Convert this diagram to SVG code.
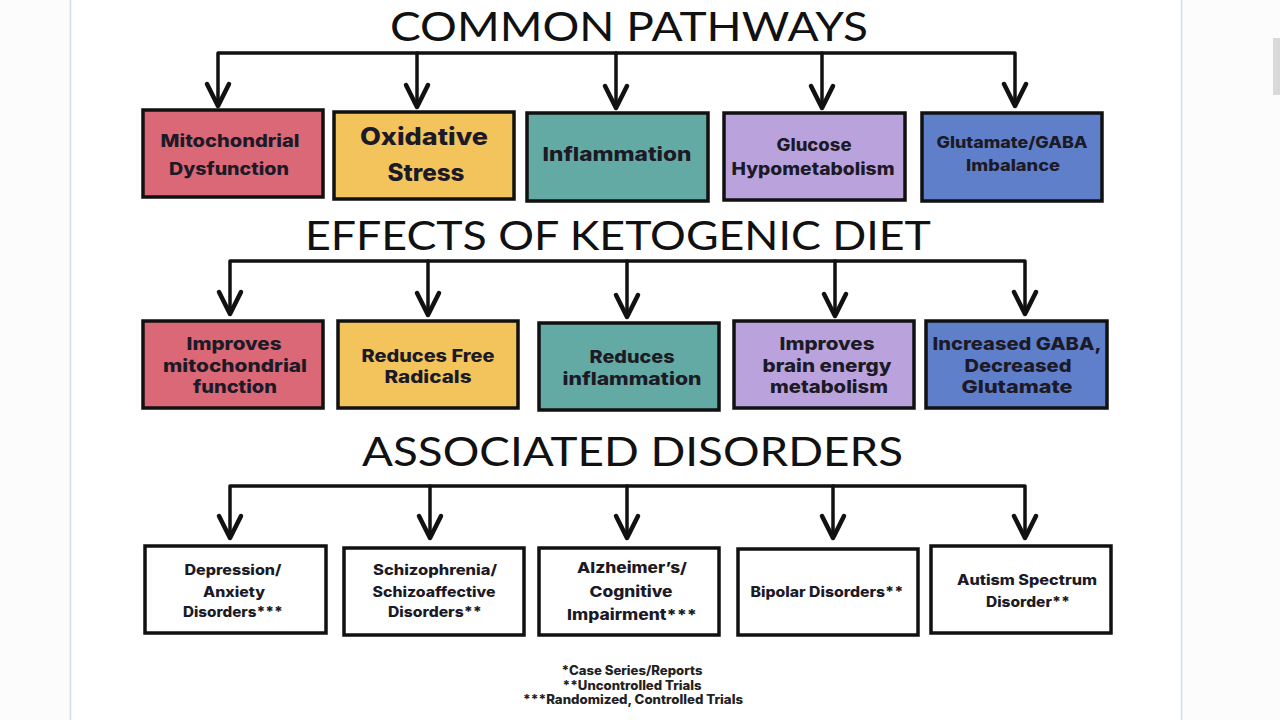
<svg xmlns="http://www.w3.org/2000/svg" width="1280" height="720" viewBox="0 0 1280 720">
<defs>
<style>
.title{font-family:Lato,"Liberation Sans",sans-serif;font-weight:400;font-size:41px;fill:#111;}
.lbl{font-family:Inter,"Liberation Sans",sans-serif;font-weight:800;fill:#1c1a26;text-anchor:middle;}
.box{stroke:#111;stroke-width:3.5;}
.wire{fill:none;stroke:#111;stroke-width:3.5;stroke-linejoin:round;stroke-linecap:round;}
.head{fill:none;stroke:#111;stroke-width:4.5;stroke-linejoin:round;stroke-linecap:round;}
.fn{font-family:Inter,"Liberation Sans",sans-serif;font-weight:800;font-size:12.5px;fill:#222;text-anchor:middle;}
</style>
</defs>
<rect x="0" y="0" width="1280" height="720" fill="#fcfcfc"/>
<rect x="71" y="0" width="1110" height="720" fill="#ffffff"/>
<line x1="70.5" y1="0" x2="70.5" y2="720" stroke="#d3dde6" stroke-width="1.5"/>
<line x1="1181.5" y1="0" x2="1181.5" y2="720" stroke="#d3dde6" stroke-width="1.5"/>
<rect x="1273" y="38" width="7" height="57" fill="#d9d9d9"/>

<g id="titles">
<text class="title" x="390" y="41" textLength="478" lengthAdjust="spacingAndGlyphs">COMMON PATHWAYS</text>
<text class="title" x="305" y="250" textLength="626" lengthAdjust="spacingAndGlyphs">EFFECTS OF KETOGENIC DIET</text>
<text class="title" x="362" y="466" textLength="541" lengthAdjust="spacingAndGlyphs">ASSOCIATED DISORDERS</text>
</g>

<g id="connectors">
<path class="wire" d="M218,106 L218,53 L1015,53 L1015,106"/>
<path class="wire" d="M417,53 L417,107"/>
<path class="wire" d="M616,53 L616,108"/>
<path class="wire" d="M822,53 L822,108"/>
<g class="head">
<path d="M207,84 L218,106 L229,84"/>
<path d="M406,85 L417,107 L428,85"/>
<path d="M605,86 L616,108 L627,86"/>
<path d="M811,86 L822,108 L833,86"/>
<path d="M1004,84 L1015,106 L1026,84"/>
</g>
<path class="wire" d="M230,314 L230,261 L1025,261 L1025,314"/>
<path class="wire" d="M428,261 L428,315"/>
<path class="wire" d="M627,261 L627,317"/>
<path class="wire" d="M835,261 L835,316"/>
<g class="head">
<path d="M219,292 L230,314 L241,292"/>
<path d="M417,293 L428,315 L439,293"/>
<path d="M616,295 L627,317 L638,295"/>
<path d="M824,294 L835,316 L846,294"/>
<path d="M1014,292 L1025,314 L1036,292"/>
</g>
<path class="wire" d="M230,538 L230,486 L1025,486 L1025,538"/>
<path class="wire" d="M430,486 L430,538"/>
<path class="wire" d="M627,486 L627,538"/>
<path class="wire" d="M833,486 L833,538"/>
<g class="head">
<path d="M219,516 L230,538 L241,516"/>
<path d="M419,516 L430,538 L441,516"/>
<path d="M616,516 L627,538 L638,516"/>
<path d="M822,516 L833,538 L844,516"/>
<path d="M1014,516 L1025,538 L1036,516"/>
</g>
</g>

<g id="n-mito">
<rect class="box" x="143" y="110" width="180" height="87" fill="#da6877"/>
<text class="lbl" x="230" y="147" font-size="17" textLength="139" lengthAdjust="spacingAndGlyphs">Mitochondrial</text>
<text class="lbl" x="229" y="175" font-size="17" textLength="120" lengthAdjust="spacingAndGlyphs">Dysfunction</text>
</g>
<g id="n-ox">
<rect class="box" x="334" y="112" width="180" height="87" fill="#f3c45b"/>
<text class="lbl" x="424" y="145" font-size="24" textLength="128" lengthAdjust="spacingAndGlyphs">Oxidative</text>
<text class="lbl" x="426" y="181" font-size="24" textLength="77" lengthAdjust="spacingAndGlyphs">Stress</text>
</g>
<g id="n-infl">
<rect class="box" x="527" y="113" width="181" height="88" fill="#62aaa3"/>
<text class="lbl" x="617" y="161" font-size="19" textLength="149" lengthAdjust="spacingAndGlyphs">Inflammation</text>
</g>
<g id="n-gluc">
<rect class="box" x="724" y="113" width="181" height="87" fill="#baa3dc"/>
<text class="lbl" x="814" y="151" font-size="17" textLength="75" lengthAdjust="spacingAndGlyphs">Glucose</text>
<text class="lbl" x="813" y="175" font-size="17" textLength="163" lengthAdjust="spacingAndGlyphs">Hypometabolism</text>
</g>
<g id="n-glut">
<rect class="box" x="922" y="113" width="180" height="88" fill="#5f7fcb"/>
<text class="lbl" x="1012" y="148" font-size="16" textLength="151" lengthAdjust="spacingAndGlyphs">Glutamate/GABA</text>
<text class="lbl" x="1013" y="171" font-size="16" textLength="94" lengthAdjust="spacingAndGlyphs">Imbalance</text>
</g>

<g id="e-mito">
<rect class="box" x="143" y="321" width="180" height="87" fill="#da6877"/>
<text class="lbl" x="234" y="350" font-size="18" textLength="95" lengthAdjust="spacingAndGlyphs">Improves</text>
<text class="lbl" x="235" y="372" font-size="18" textLength="144" lengthAdjust="spacingAndGlyphs">mitochondrial</text>
<text class="lbl" x="235" y="393" font-size="18" textLength="84" lengthAdjust="spacingAndGlyphs">function</text>
</g>
<g id="e-ox">
<rect class="box" x="338" y="321" width="180" height="87" fill="#f3c45b"/>
<text class="lbl" x="428" y="362" font-size="17" textLength="133" lengthAdjust="spacingAndGlyphs">Reduces Free</text>
<text class="lbl" x="428" y="383" font-size="17" textLength="87" lengthAdjust="spacingAndGlyphs">Radicals</text>
</g>
<g id="e-infl">
<rect class="box" x="539" y="323" width="180" height="87" fill="#62aaa3"/>
<text class="lbl" x="632" y="363" font-size="18" textLength="85" lengthAdjust="spacingAndGlyphs">Reduces</text>
<text class="lbl" x="632" y="385" font-size="18" textLength="139" lengthAdjust="spacingAndGlyphs">inflammation</text>
</g>
<g id="e-brain">
<rect class="box" x="734" y="321" width="180" height="87" fill="#baa3dc"/>
<text class="lbl" x="827" y="350" font-size="18" textLength="95" lengthAdjust="spacingAndGlyphs">Improves</text>
<text class="lbl" x="827" y="372" font-size="18" textLength="129" lengthAdjust="spacingAndGlyphs">brain energy</text>
<text class="lbl" x="829" y="393" font-size="18" textLength="118" lengthAdjust="spacingAndGlyphs">metabolism</text>
</g>
<g id="e-gaba">
<rect class="box" x="926" y="321" width="181" height="87" fill="#5f7fcb"/>
<text class="lbl" x="1017" y="350" font-size="18" textLength="169" lengthAdjust="spacingAndGlyphs">Increased GABA,</text>
<text class="lbl" x="1018" y="372" font-size="18" textLength="107" lengthAdjust="spacingAndGlyphs">Decreased</text>
<text class="lbl" x="1017" y="393" font-size="18" textLength="111" lengthAdjust="spacingAndGlyphs">Glutamate</text>
</g>

<g id="d-dep">
<rect class="box" x="145" y="546" width="181" height="87" fill="#ffffff"/>
<text class="lbl" x="233" y="575" font-size="14" textLength="97" lengthAdjust="spacingAndGlyphs">Depression/</text>
<text class="lbl" x="234" y="597" font-size="14" textLength="62" lengthAdjust="spacingAndGlyphs">Anxiety</text>
<text class="lbl" x="233" y="617" font-size="14" textLength="100" lengthAdjust="spacingAndGlyphs">Disorders***</text>
</g>
<g id="d-schiz">
<rect class="box" x="344" y="548" width="180" height="87" fill="#ffffff"/>
<text class="lbl" x="435" y="575" font-size="14" textLength="124" lengthAdjust="spacingAndGlyphs">Schizophrenia/</text>
<text class="lbl" x="434" y="597" font-size="14" textLength="123" lengthAdjust="spacingAndGlyphs">Schizoaffective</text>
<text class="lbl" x="435" y="617" font-size="14" textLength="94" lengthAdjust="spacingAndGlyphs">Disorders**</text>
</g>
<g id="d-alz">
<rect class="box" x="539" y="548" width="180" height="87" fill="#ffffff"/>
<text class="lbl" x="632" y="573" font-size="15" textLength="110" lengthAdjust="spacingAndGlyphs">Alzheimer’s/</text>
<text class="lbl" x="631" y="597" font-size="15" textLength="83" lengthAdjust="spacingAndGlyphs">Cognitive</text>
<text class="lbl" x="632" y="620" font-size="15" textLength="130" lengthAdjust="spacingAndGlyphs">Impairment***</text>
</g>
<g id="d-bip">
<rect class="box" x="738" y="549" width="180" height="86" fill="#ffffff"/>
<text class="lbl" x="827" y="597" font-size="14" textLength="153" lengthAdjust="spacingAndGlyphs">Bipolar Disorders**</text>
</g>
<g id="d-aut">
<rect class="box" x="931" y="546" width="180" height="87" fill="#ffffff"/>
<text class="lbl" x="1027" y="585" font-size="14" textLength="140" lengthAdjust="spacingAndGlyphs">Autism Spectrum</text>
<text class="lbl" x="1028" y="607" font-size="14" textLength="84" lengthAdjust="spacingAndGlyphs">Disorder**</text>
</g>

<g id="footnotes">
<text class="fn" x="632" y="675" textLength="141" lengthAdjust="spacingAndGlyphs">*Case Series/Reports</text>
<text class="fn" x="632" y="690" textLength="139" lengthAdjust="spacingAndGlyphs">**Uncontrolled Trials</text>
<text class="fn" x="633" y="704" textLength="220" lengthAdjust="spacingAndGlyphs">***Randomized, Controlled Trials</text>
</g>
</svg>
